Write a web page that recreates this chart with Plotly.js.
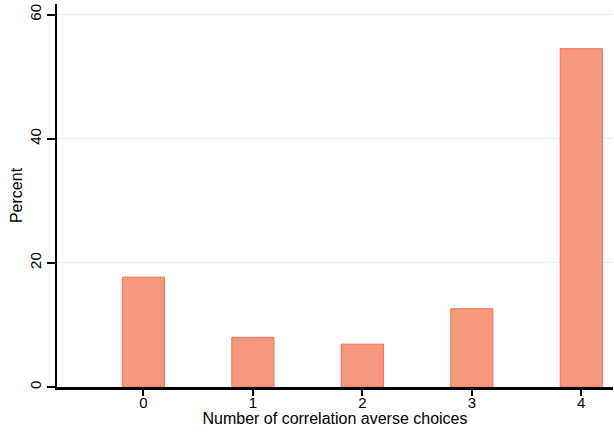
<!DOCTYPE html>
<html>
<head>
<meta charset="utf-8">
<script src="https://cdn.plot.ly/plotly-3.0.1.min.js"></script>
<style>html,body{margin:0;padding:0;background:#fff}#chart{width:614px;height:432px}</style>
</head>
<body>
<div id="chart"></div>
<script>
const categories = [0, 1, 2, 3, 4];
const percentValues = [17.7, 8.0, 6.9, 12.6, 54.5];
const yTickValues = [0, 20, 40, 60];
const xTitle = "Number of correlation averse choices";
const yTitle = "Percent";

const trace = {
  type: 'bar',
  x: categories,
  y: percentValues,
  width: 0.385,
  marker: {color: 'rgb(246,152,123)', line: {color: 'rgb(241,112,86)', width: 1}},
  hoverinfo: 'x+y'
};

const layout = {
  width: 614, height: 432,
  margin: {l: 57, r: 1, t: 4, b: 45},
  paper_bgcolor: '#fff', plot_bgcolor: '#fff',
  font: {family: 'Liberation Sans, Arial, sans-serif', size: 15, color: '#000'},
  showlegend: false,
  bargap: 0,
  xaxis: {
    range: [-0.79, 4.29],
    tickvals: categories,
    ticktext: categories.map(String),
    ticks: 'outside', ticklen: 6, tickwidth: 2, tickcolor: '#000',
    ticklabelstandoff: -6,
    showline: true, linecolor: '#000', linewidth: 2.5,
    showgrid: false, zeroline: false,
    tickfont: {size: 15},
    title: {text: xTitle, font: {size: 16}, standoff: 0}
  },
  yaxis: {
    range: [0, 61.7],
    tickvals: yTickValues,
    ticktext: yTickValues.map(String),
    tickangle: -90,
    ticks: 'outside', ticklen: 8, tickwidth: 2, tickcolor: '#000',
    showline: true, linecolor: '#000', linewidth: 2.5,
    showgrid: true, gridcolor: '#e9f0f2', gridwidth: 1,
    zeroline: false,
    tickfont: {size: 15},
    title: {text: yTitle, font: {size: 16}, standoff: 0}
  }
};

Plotly.newPlot('chart', [trace], layout, {displayModeBar: false, staticPlot: true});
</script>
</body>
</html>
